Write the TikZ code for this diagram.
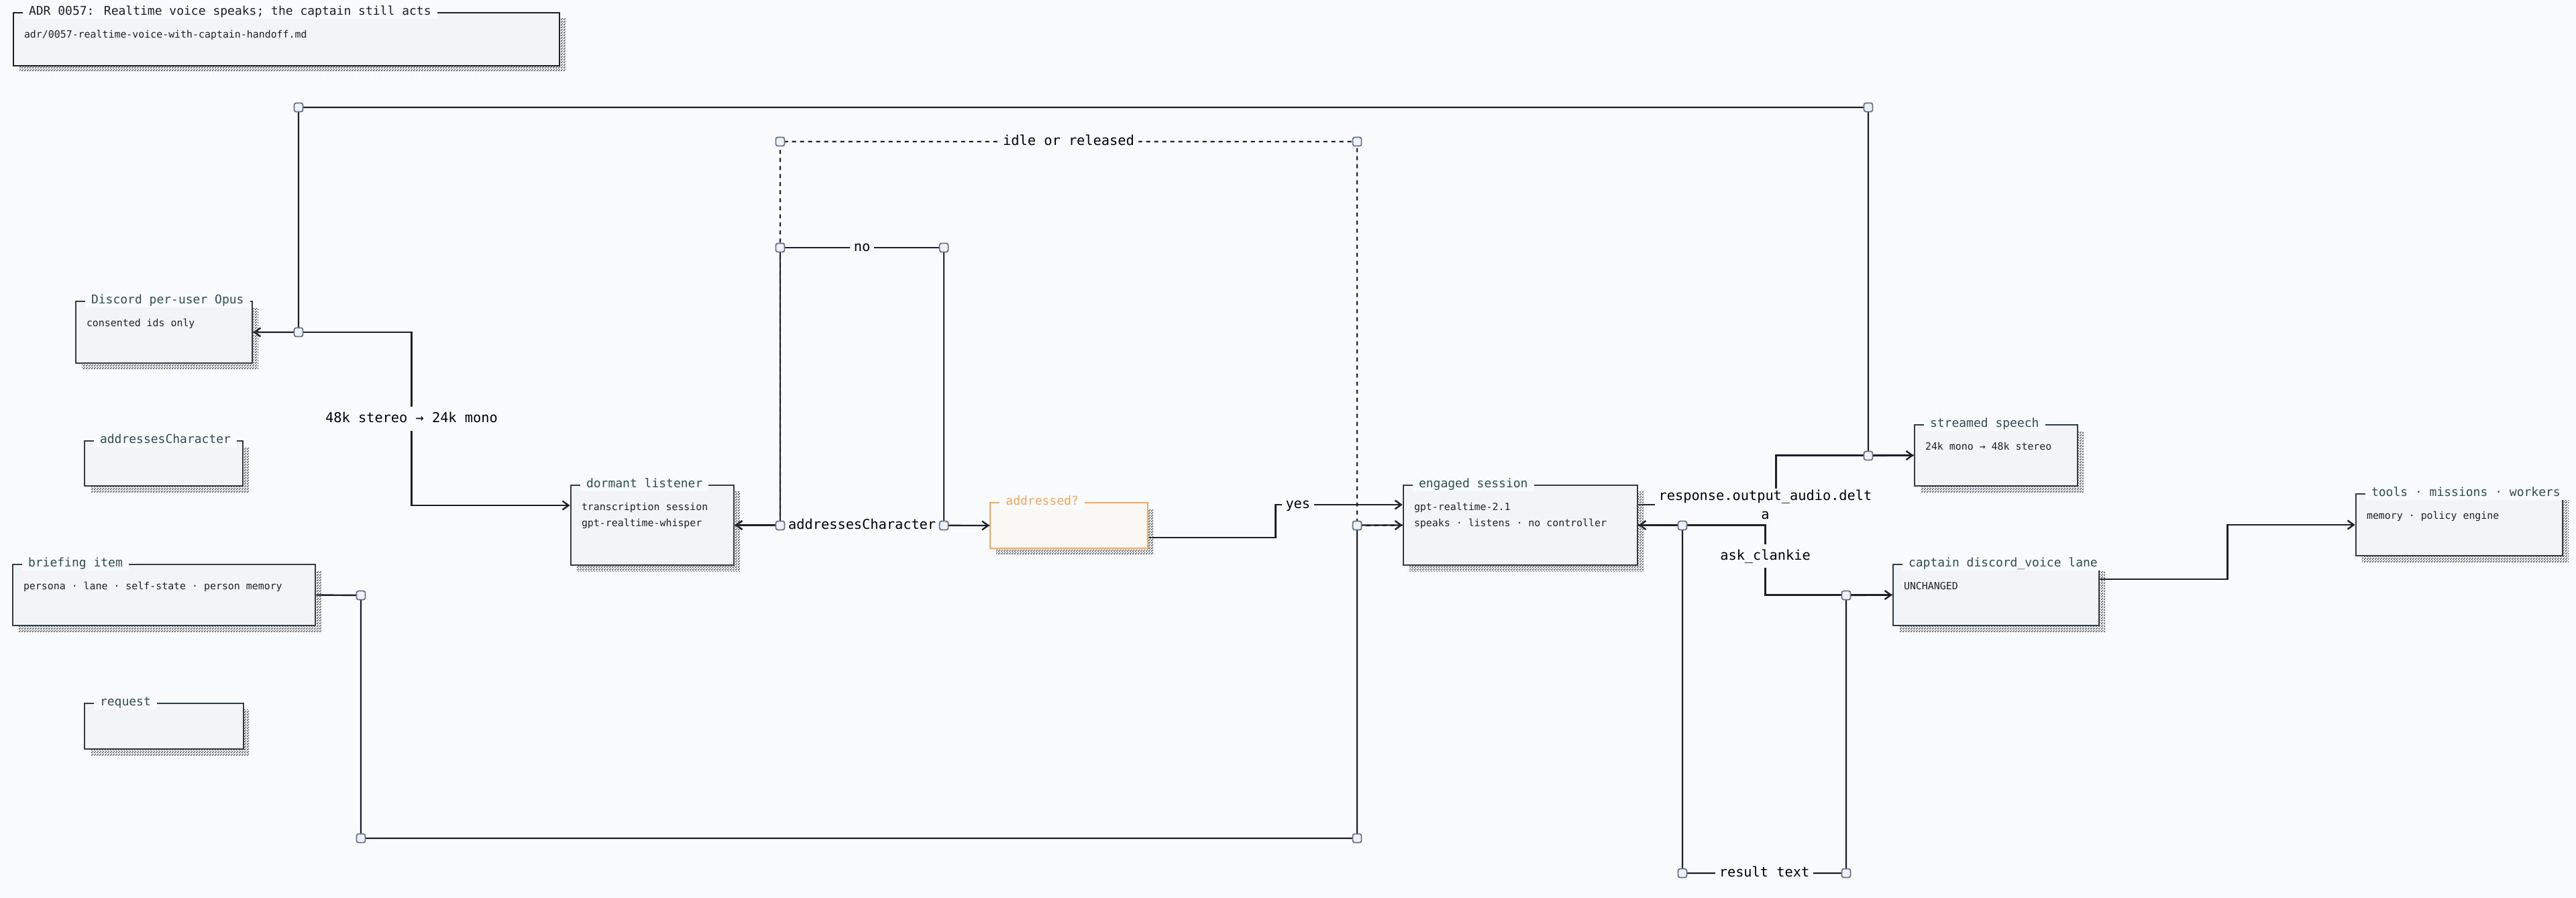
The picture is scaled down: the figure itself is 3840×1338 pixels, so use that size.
\documentclass[tikz,border=0pt]{standalone}
\usepackage{fontspec}
\setmainfont{DejaVu Sans Mono}
\usepackage{tikz}
\usetikzlibrary{positioning,arrows.meta,calc,fit,shadows,patterns}

\definecolor{paper}{HTML}{F8FAFC}
\definecolor{boxfill}{HTML}{F3F4F6}
\definecolor{boxline}{HTML}{2E3D47}
\definecolor{inkdark}{HTML}{1C2127}
\definecolor{titleink}{HTML}{2F4D52}
\definecolor{bodyink}{HTML}{1C2228}
\definecolor{wireink}{HTML}{1A1F29}
\definecolor{amber}{HTML}{F5A65B}
\definecolor{amberfill}{HTML}{FAF8F5}
\definecolor{knotline}{HTML}{64748B}
\definecolor{knotfill}{HTML}{EEF2F6}

% fine checker for the card shadows
\pgfdeclarepatternformonly{stipple}{\pgfpointorigin}{\pgfqpoint{2pt}{2pt}}{\pgfqpoint{2pt}{2pt}}{
  \pgfpathrectangle{\pgfpointorigin}{\pgfqpoint{1pt}{1pt}}
  \pgfpathrectangle{\pgfqpoint{1pt}{1pt}}{\pgfqpoint{1pt}{1pt}}
  \pgfusepath{fill}}

\pgfdeclarelayer{wires}
\pgfsetlayers{wires,main}

\tikzset{
  card/.style={draw=boxline, line width=1.4pt, fill=boxfill, inner sep=0pt,
    drop shadow={shadow xshift=4.5pt, shadow yshift=-4.5pt, opacity=1,
      pattern=stipple, pattern color=black!70}},
  cardtitle/.style={anchor=west, fill=paper, inner xsep=4.5pt, inner ysep=1pt,
    text=titleink, font=\fontsize{9}{11}\selectfont, text height=6.8pt, text depth=2pt},
  cardbody/.style={anchor=north west, inner sep=0pt, align=left,
    text=bodyink, font=\fontsize{7.45}{12}\selectfont},
  knot/.style={draw=knotline, fill=knotfill, line width=.9pt, rounded corners=1.5pt,
    minimum size=6.5pt, inner sep=0pt},
  wire/.style={draw=wireink, line width=1.2pt},
  tag/.style={fill=paper, inner xsep=3pt, inner ysep=4pt, text=black,
    font=\fontsize{10.15}{14}\selectfont, text height=7.7pt, text depth=2.2pt},
  tagwrap/.style={fill=paper, inner xsep=3pt, inner ysep=1pt, text=black, align=center,
    font=\fontsize{10.15}{14}\selectfont},
}

\begin{document}
\begin{tikzpicture}[x=0.5pt, y=-0.5pt, >={Straight Barb[length=4.5pt,width=6.5pt]}]
\useasboundingbox (0,0) rectangle (3840,1338);

% cards
\node[card, draw=inkdark, fit={(20,19) (834,98)}] (adr) {};
\node[card, fit={(113,449) (376,541)}] (discord) {};
\node[card, fit={(126,657) (362,724)}] (acbox) {};
\node[card, fit={(19,841) (470,932)}] (briefing) {};
\node[card, fit={(126,1048) (363,1116)}] (request) {};
\node[card, fit={(851,723) (1094,842)}] (dormant) {};
\node[card, draw=amber, fill=amberfill, line width=1pt, fit={(1476,749) (1711,817)}] (addressed) {};
\node[card, fit={(2092,723) (2441,842)}] (engaged) {};
\node[card, fit={(2854,633) (3097,724)}] (streamed) {};
\node[card, fit={(2822,841) (3129,932)}] (captain) {};
\node[card, fit={(3512,736) (3820,828)}] (tools) {};

% card titles
\node[cardtitle, text=inkdark] (adrT) at ($(adr.north west)+(15,0)$) {ADR 0057: Realtime voice speaks; the captain still acts};
\node[cardtitle] (discordT) at ($(discord.north west)+(15,0)$) {Discord per-user Opus};
\node[cardtitle] (acboxT) at ($(acbox.north west)+(15,0)$) {addressesCharacter};
\node[cardtitle] (briefingT) at ($(briefing.north west)+(15,0)$) {briefing item};
\node[cardtitle] (requestT) at ($(request.north west)+(15,0)$) {request};
\node[cardtitle] (dormantT) at ($(dormant.north west)+(15,0)$) {dormant listener};
\node[cardtitle, text=amber] (addressedT) at ($(addressed.north west)+(15,0)$) {addressed?};
\node[cardtitle] (engagedT) at ($(engaged.north west)+(15,0)$) {engaged session};
\node[cardtitle] (streamedT) at ($(streamed.north west)+(15,0)$) {streamed speech};
\node[cardtitle] (captainT) at ($(captain.north west)+(15,0)$) {captain discord\_voice lane};
\node[cardtitle] (toolsT) at ($(tools.north west)+(15,0)$) {tools · missions · workers};

% card bodies
\node[cardbody] (adrB) at ($(adr.north west)+(17,27)$) {adr/0057-realtime-voice-with-captain-handoff.md};
\node[cardbody] (discordB) at ($(discord.north west)+(17,27)$) {consented ids only};
\node[cardbody] (briefingB) at ($(briefing.north west)+(17,27)$) {persona · lane · self-state · person memory};
\node[cardbody] (dormantB) at ($(dormant.north west)+(17,27)$) {transcription session\\gpt-realtime-whisper};
\node[cardbody] (engagedB) at ($(engaged.north west)+(17,27)$) {gpt-realtime-2.1\\speaks · listens · no controller};
\node[cardbody] (streamedB) at ($(streamed.north west)+(17,27)$) {24k mono → 48k stereo};
\node[cardbody] (captainB) at ($(captain.north west)+(17,27)$) {UNCHANGED};
\node[cardbody] (toolsB) at ($(tools.north west)+(17,27)$) {memory · policy engine};

% junctions
\node[knot] (jTL) at (445,160) {};
\node[knot] (jTR) at (2785,160) {};
\node[knot] (jDs) at (445,495) {};
\node[knot] (jSp) at (2785,679) {};
\node[knot] (jIdL) at (1163,211) {};
\node[knot] (jIdR) at (2023,211) {};
\node[knot] (jNoL) at (1163,369) {};
\node[knot] (jNoR) at (1407,369) {};
\node[knot] (jAcL) at (1163,783) {};
\node[knot] (jAcR) at (1407,783) {};
\node[knot] (jIdB) at (2023,783) {};
\node[knot] (jBr) at (538,887) {};
\node[knot] (jBL) at (538,1249) {};
\node[knot] (jBR) at (2023,1249) {};
\node[knot] (jRt) at (2508,783) {};
\node[knot] (jCp) at (2752,887) {};
\node[knot] (jRsL) at (2508,1301) {};
\node[knot] (jRsR) at (2752,1301) {};

% ports
\coordinate (dormIn) at ($(dormant.west)+(0,-29.5)$);
\coordinate (yesOut) at ($(addressed.east)+(0,18)$);
\coordinate (yesIn) at ($(engaged.west)+(0,-30.5)$);
\coordinate (speechOut) at ($(engaged.east)+(0,-30.5)$);
\coordinate (laneOut) at ($(captain.east)+(0,-23.5)$);

\begin{pgfonlayer}{wires}
\fill[paper] (0,0) rectangle (3840,1338);
\draw[wire,->] (discord.east) -| ($(discord.east)!.5!(dormIn)$) node[tag]{48k stereo → 24k mono} |- (dormIn);
\draw[wire,->] (dormant.east) -- node[tag]{addressesCharacter} (addressed.west);
\draw[wire,->] (addressed.west) -- (jAcR.center) |- node[tag,pos=.75]{no} (jNoL.center) |- (dormant.east);
\draw[wire,->] (yesOut) -| ($(yesOut)!.5!(yesIn)$) |- node[tag,pos=.5,anchor=west,xshift=4pt]{yes} (yesIn);
\draw[wire,dashed,->] (engaged.west) -- (jIdB.center) |- node[tag,pos=.75]{idle or released} (jIdL.center) |- (dormant.east);
\draw[wire,->] (briefing.east) -- (jBr.center) |- (jBR.center) |- (engaged.west);
\draw[wire,->] (speechOut) -| node[tagwrap,pos=.5,xshift=-8pt]{response.output\_audio.delt\\a} ($(speechOut)!.5!(streamed.west)$) |- (streamed.west);
\draw[wire,->] (streamed.west) -- (jSp.center) |- (jTL.center) |- (discord.east);
\draw[wire,->] (engaged.east) -| ($(engaged.east)!.5!(captain.west)$) node[tag,yshift=3pt]{ask\_clankie} |- (captain.west);
\draw[wire,->] (captain.west) -- (jCp.center) |- node[tag,pos=.75]{result text} (jRsL.center) |- (engaged.east);
\draw[wire,->] (laneOut) -| ($(laneOut)!.5!(tools.west)$) |- (tools.west);
\end{pgfonlayer}
\end{tikzpicture}
\end{document}
